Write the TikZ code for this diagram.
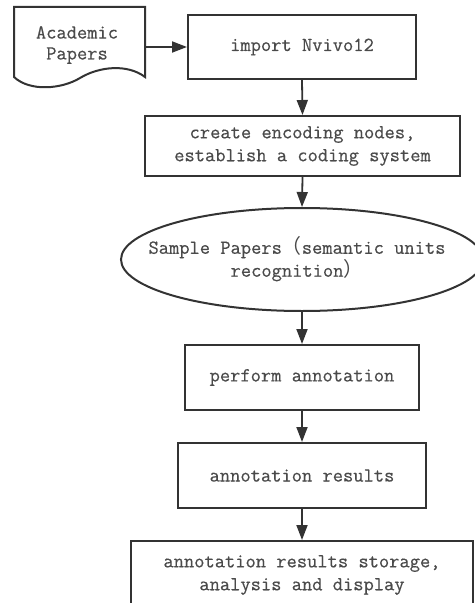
\documentclass[tikz,border=0pt]{standalone}
\usepackage{fontspec}
\newfontfamily\lmt[FakeBold=0.5]{Latin Modern Mono}
\newfontfamily\cjk{Noto Sans CJK SC}
\usetikzlibrary{arrows.meta,shapes.geometric}
\definecolor{ln}{HTML}{333333}
\definecolor{tx}{HTML}{4A4A4A}
\begin{document}
\begin{tikzpicture}[x=1bp,y=-1bp,
  txt/.style={text=tx,font=\lmt\fontsize{20}{23}\selectfont,align=center,inner sep=0pt},
  box/.style={txt,draw=ln,line width=2bp},
  arr/.style={draw=ln,line width=1.8bp,-{Triangle[length=15bp,width=11bp]}}]
\useasboundingbox (0,0) rectangle (475,603);
\clip (0,0) rectangle (475,603);
% document shape
\draw[ln,line width=2bp] (14,7) -- (145,7) -- (145,77)
  .. controls (128,64) and (100,66) .. (80,78)
  .. controls (62,89) and (30,92) .. (14,77) -- cycle;
\node[txt,font=\lmt\fontsize{20}{21}\selectfont] (doc) at (77,45) {Academic\\ Papers};
\coordinate (docr) at (145,47);
% boxes
\node[box,minimum width=228bp,minimum height=64bp] (imp) at (302,47) {import Nvivo12};
\node[box,minimum width=315bp,minimum height=60bp] (enc) at (302.5,146) {create encoding nodes,\\establish a coding system};
\node[draw=ln,line width=2bp,ellipse,inner sep=0pt,minimum width=362bp,minimum height=103bp] (smp) at (302,259.5) {};
\node[txt] (smpt) at (297,259) {Sample Papers{\cjk （}semantic units\\recognition{\cjk ）}};
\node[box,minimum width=234bp,minimum height=65bp] (per) at (302,377.5) {perform annotation};
\node[box,minimum width=248bp,minimum height=65bp] (res) at (302,475.5) {annotation results};
\node[box,minimum width=342bp,minimum height=68bp] (fin) at (302,575) {annotation results storage,\\analysis and display};
% arrows
\draw[arr] (docr) -- (imp.west);
\draw[arr] (imp.south) -- (enc.north);
\draw[arr] (enc.south) -- (smp.north);
\draw[arr] (smp.south) -- (per.north);
\draw[arr] (per.south) -- (res.north);
\draw[arr] (res.south) -- (fin.north);
\end{tikzpicture}
\end{document}
